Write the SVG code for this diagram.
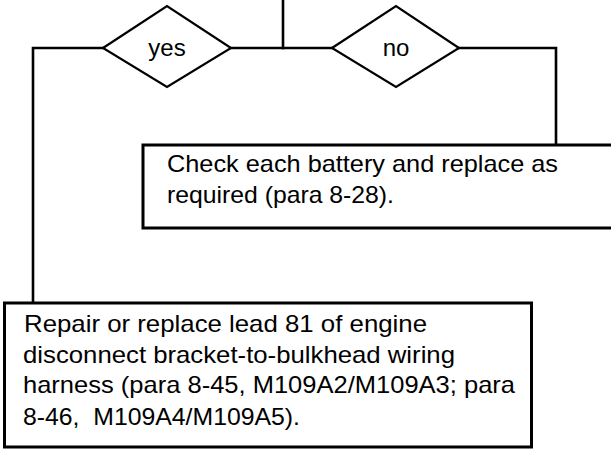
<svg xmlns="http://www.w3.org/2000/svg" width="611" height="449" viewBox="0 0 611 449">
<style>
  .bg { fill: #ffffff; }
  .box { fill: #ffffff; stroke: #000000; stroke-width: 3; }
  .dia { fill: #ffffff; stroke: #000000; stroke-width: 2.2; stroke-linejoin: miter; }
  .conn { fill: none; stroke: #000000; stroke-width: 2.6; stroke-linecap: square; }
  .t { font-family: "Liberation Sans", Arial, Helvetica, sans-serif; font-size: 24px; fill: #000000; }
  .c { text-anchor: middle; }
</style>
<rect class="bg" x="0" y="0" width="611" height="449"/>
<g id="connectors">
  <polyline class="conn" points="283,0 283,48"/>
  <polyline class="conn" points="103,48 33,48 33,303"/>
  <polyline class="conn" points="231,48 332,48"/>
  <polyline class="conn" points="459,48 556,48 556,145"/>
</g>
<g id="yes">
  <polygon class="dia" points="103,48 167,6 231,48 167,87"/>
  <text class="t c" x="167" y="56">yes</text>
</g>
<g id="no">
  <polygon class="dia" points="332,48 396,6 459,48 396,87"/>
  <text class="t c" x="396" y="56">no</text>
</g>
<g id="check-battery">
  <rect class="box" x="143" y="145" width="480" height="83"/>
  <text class="t" x="167" y="172" textLength="391" lengthAdjust="spacingAndGlyphs">Check each battery and replace as</text>
  <text class="t" x="167" y="203" textLength="227" lengthAdjust="spacingAndGlyphs">required (para 8-28).</text>
</g>
<g id="repair-lead">
  <rect class="box" x="4.5" y="303" width="527" height="144"/>
  <text class="t" x="24" y="332" textLength="403" lengthAdjust="spacingAndGlyphs">Repair or replace lead 81 of engine</text>
  <text class="t" x="23" y="363" textLength="432" lengthAdjust="spacingAndGlyphs">disconnect  bracket-to-bulkhead  wiring</text>
  <text class="t" x="23" y="393" textLength="492" lengthAdjust="spacingAndGlyphs">harness (para 8-45, M109A2/M109A3; para</text>
  <text class="t" x="23" y="425" textLength="277" lengthAdjust="spacingAndGlyphs">8-46,&#160; M109A4/M109A5).</text>
</g>
</svg>
